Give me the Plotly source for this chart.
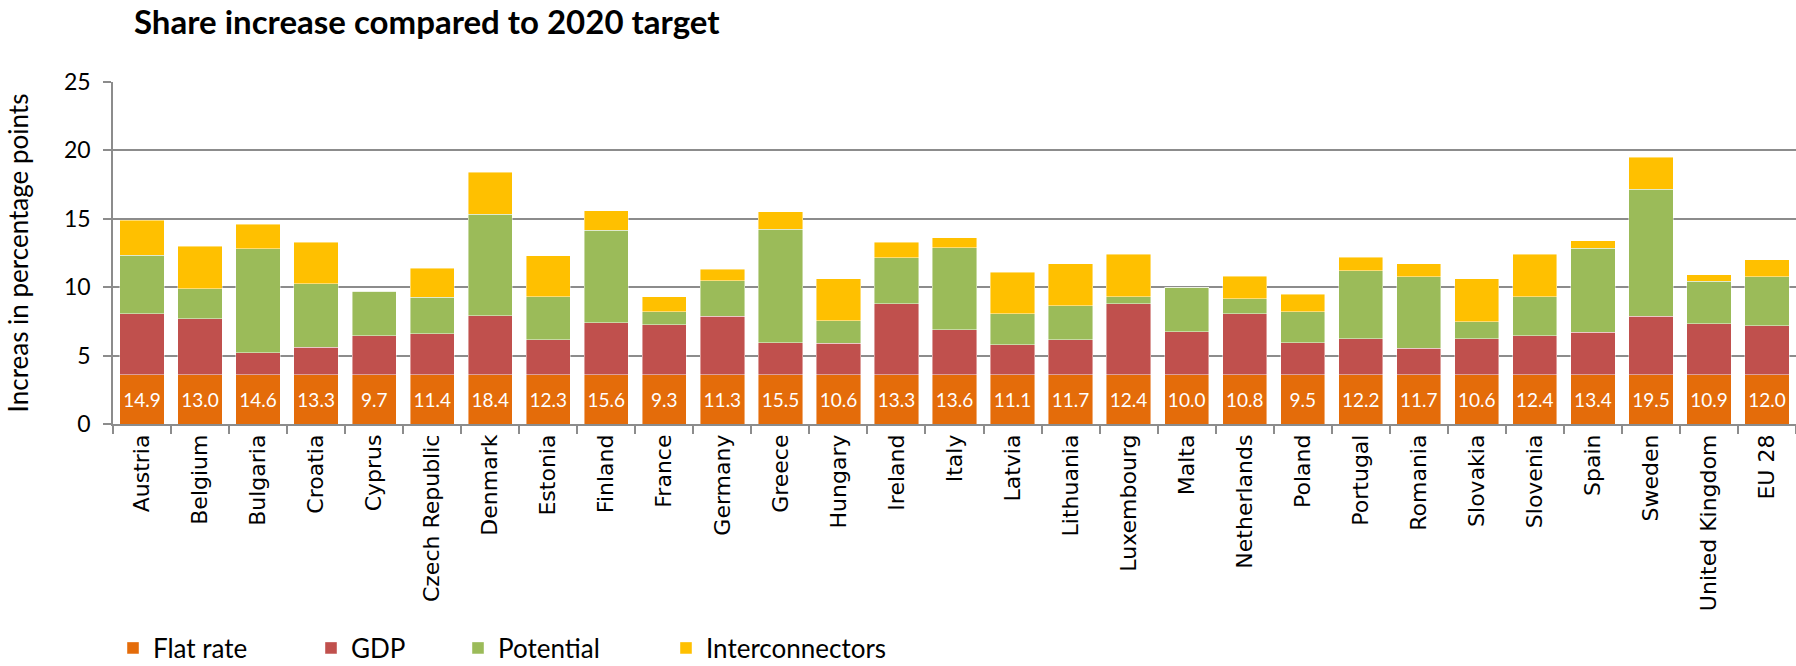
import plotly.graph_objects as go

countries = ["Austria", "Belgium", "Bulgaria", "Croatia", "Cyprus", "Czech Republic", "Denmark",
             "Estonia", "Finland", "France", "Germany", "Greece", "Hungary", "Ireland", "Italy",
             "Latvia", "Lithuania", "Luxembourg", "Malta", "Netherlands", "Poland", "Portugal",
             "Romania", "Slovakia", "Slovenia", "Spain", "Sweden", "United Kingdom", "EU 28"]

flat_rate = [3.6, 3.6, 3.6, 3.6, 3.6, 3.6, 3.6, 3.6, 3.6, 3.6, 3.6, 3.6, 3.6, 3.6, 3.6,
             3.6, 3.6, 3.6, 3.6, 3.6, 3.6, 3.6, 3.6, 3.6, 3.6, 3.6, 3.6, 3.6, 3.6]
gdp = [4.47, 4.08, 1.60, 2.01, 2.84, 2.99, 4.33, 2.57, 3.81, 3.64, 4.28, 2.35, 2.30, 5.20, 3.30,
       2.18, 2.57, 5.20, 3.16, 4.47, 2.35, 2.64, 1.94, 2.64, 2.86, 3.11, 4.28, 3.72, 3.60]
potential = [4.25, 2.20, 7.60, 4.66, 3.27, 2.68, 7.41, 3.15, 6.76, 0.98, 2.61, 8.27, 1.64, 3.37, 5.98,
             2.27, 2.46, 0.49, 3.24, 1.08, 2.27, 4.98, 5.24, 1.25, 2.86, 6.12, 9.27, 3.12, 3.58]
interconnectors = [2.58, 3.12, 1.80, 3.03, 0.0, 2.13, 3.06, 2.98, 1.43, 1.08, 0.81, 1.28, 3.06, 1.13, 0.72,
                   3.05, 3.07, 3.11, 0.0, 1.65, 1.28, 0.98, 0.92, 3.11, 3.08, 0.57, 2.35, 0.46, 1.22]
totals = [14.9, 13.0, 14.6, 13.3, 9.7, 11.4, 18.4, 12.3, 15.6, 9.3, 11.3, 15.5, 10.6, 13.3, 13.6,
          11.1, 11.7, 12.4, 10.0, 10.8, 9.5, 12.2, 11.7, 10.6, 12.4, 13.4, 19.5, 10.9, 12.0]

W, H = 1796, 666
ML, MR, MT, MB = 113, 0, 82, 242

CAL = "Lato, 'Open Sans', sans-serif"
VER = "'DejaVu Sans', Verdana, sans-serif"

series = [
    ("Flat rate", flat_rate, "#E46C0A", "legend"),
    ("GDP", gdp, "#C0504D", "legend2"),
    ("Potential", potential, "#9BBB59", "legend3"),
    ("Interconnectors", interconnectors, "#FFC000", "legend4"),
]

fig = go.Figure()
for i, (name, vals, color, lg) in enumerate(series):
    kw = {}
    if i == 0:
        kw = dict(text=[f"{t:.1f}" for t in totals], textposition="inside",
                  insidetextanchor="middle", textangle=0, constraintext="none",
                  textfont=dict(family=CAL, size=19, color="white"))
    fig.add_trace(go.Bar(x=countries, y=vals, name=name, legend=lg, showlegend=True,
                         marker=dict(color=color, line=dict(color="rgba(255,255,255,0.55)", width=0.8)),
                         **kw))

ly = 1 - 648 / H

legend_common = dict(orientation="h", yanchor="middle", xanchor="left", y=ly,
                     xref="container", yref="container",
                     font=dict(family=CAL, size=26, color="black"), bgcolor="rgba(0,0,0,0)",
                     borderwidth=0)

fig.update_layout(
    width=W, height=H,
    margin=dict(l=ML, r=MR, t=MT, b=MB, autoexpand=False),
    paper_bgcolor="white", plot_bgcolor="white",
    barmode="stack", bargap=0.237, showlegend=True,
    title=dict(text="<b>Share increase compared to 2020 target</b>",
               font=dict(family=CAL, size=33, color="black"),
               xref="container", x=134 / W, xanchor="left",
               yref="container", y=1 - 22 / H, yanchor="middle"),
    legend=dict(x=113 / W, **legend_common),
    legend2=dict(x=311 / W, **legend_common),
    legend3=dict(x=458 / W, **legend_common),
    legend4=dict(x=666 / W, **legend_common),
    xaxis=dict(type="category", tickangle=-90, tickson="boundaries", automargin=False,
               ticks="outside", ticklen=8, tickcolor="#8c8c8c", tickwidth=1.5,
               showline=True, linecolor="#8c8c8c", linewidth=1.5,
               showgrid=False, range=[-0.5, len(countries) - 0.5],
               tickfont=dict(family=VER, size=22, color="black")),
    yaxis=dict(range=[0, 25], dtick=5, tick0=0, automargin=False,
               showgrid=True, gridcolor="#8c8c8c", gridwidth=1.5,
               showline=True, linecolor="#8c8c8c", linewidth=1.5,
               ticks="outside", ticklen=8, tickcolor="#8c8c8c", tickwidth=1.5,
               zeroline=False, ticklabelstandoff=8,
               tickfont=dict(family=CAL, size=23, color="black"),
               title=dict(text="Increas in percentage points",
                          font=dict(family=CAL, size=26, color="black"), standoff=28)),
)

fig.write_html("out.html", config={"displayModeBar": False},
               post_script="document.body.style.margin='0';document.body.style.overflow='hidden';")
